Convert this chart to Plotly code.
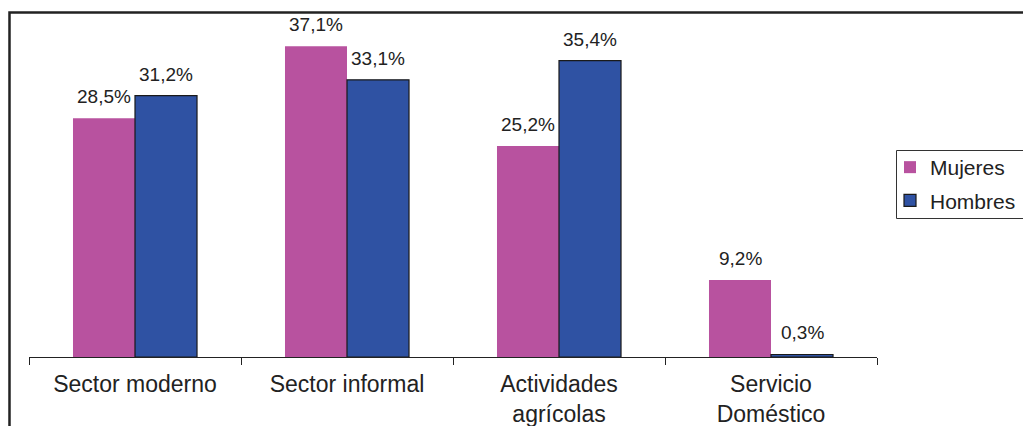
import plotly.graph_objects as go

categories = ["Sector moderno", "Sector informal", "Actividades<br>agrícolas", "Servicio<br>Doméstico"]
mujeres = [28.5, 37.1, 25.2, 9.2]
hombres = [31.2, 33.1, 35.4, 0.3]
mujeres_labels = ["28,5%", "37,1%", "25,2%", "9,2%"]
hombres_labels = ["31,2%", "33,1%", "35,4%", "0,3%"]

PINK = "#B8529F"
BLUE = "#2F52A3"
FONT = "Liberation Sans, Arial, sans-serif"

fig = go.Figure()
fig.add_trace(go.Bar(x=categories, y=mujeres, name="Mujeres", marker=dict(color=PINK, line=dict(width=0)),
                     legendgroup="m"))
fig.add_trace(go.Bar(x=categories, y=hombres, name="Hombres",
                     marker=dict(color=BLUE, line=dict(color="#1a1a1a", width=1.2)), legendgroup="h"))

annotations = []
for c, v, t in zip(categories, mujeres, mujeres_labels):
    annotations.append(dict(x=c, y=v, text=t, xshift=-31, yshift=9, yanchor="bottom", showarrow=False,
                            font=dict(size=19, color="#222", family=FONT)))
for c, v, t in zip(categories, hombres, hombres_labels):
    annotations.append(dict(x=c, y=v, text=t, xshift=31, yshift=9, yanchor="bottom", showarrow=False,
                            font=dict(size=19, color="#222", family=FONT)))

fig.update_layout(
    width=1023, height=426,
    margin=dict(l=29, r=146, t=22, b=69, autoexpand=False),
    paper_bgcolor="white", plot_bgcolor="white",
    barmode="group", bargap=0.415, bargroupgap=0,
    font=dict(family=FONT, color="#222"),
    annotations=annotations,
    legend=dict(xref="container", yref="container", x=890/1023, y=1-147/426,
                xanchor="left", yanchor="top", borderwidth=0,
                font=dict(size=21, color="#222", family=FONT), tracegroupgap=3,
                bgcolor="rgba(0,0,0,0)"),
    shapes=[
        dict(type="rect", xref="paper", yref="paper", x0=-0.023, x1=1.4, y0=-0.5, y1=1.028,
             line=dict(color="#222", width=2.5), fillcolor="rgba(0,0,0,0)", layer="below"),
        dict(type="rect", xref="paper", yref="paper", x0=(896.5 - 29) / 848, x1=1.3,
             y0=(357 - 218.5) / 335, y1=(357 - 150.5) / 335,
             line=dict(color="#333", width=1), fillcolor="white", layer="below"),
    ],
)
fig.update_xaxes(showline=True, linecolor="#222", linewidth=1, ticks="outside", tickson="boundaries",
                 ticklen=7, tickcolor="#222", tickfont=dict(size=23, color="#222", family=FONT),
                 ticklabelstandoff=6, showgrid=False, zeroline=False, automargin=False)
fig.update_yaxes(range=[0, 40], visible=False, showgrid=False, zeroline=False, automargin=False)

fig.write_html("out.html")
